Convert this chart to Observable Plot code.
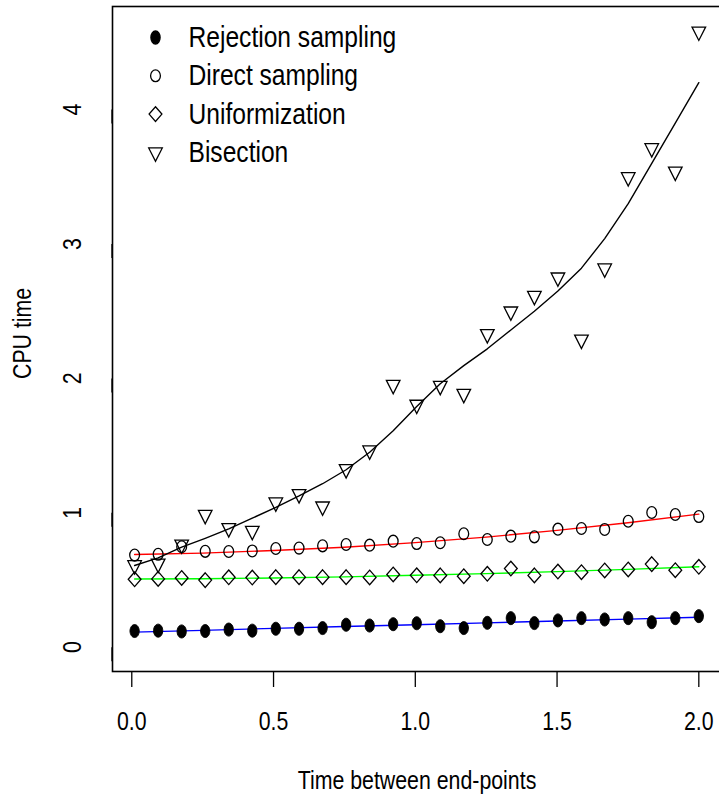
<!DOCTYPE html>
<html>
<head>
<meta charset="utf-8">
<script src="https://cdn.jsdelivr.net/npm/d3@7"></script>
<script src="https://cdn.jsdelivr.net/npm/@observablehq/plot@0.6"></script>
<style>
  html, body { margin: 0; padding: 0; background: #fff; }
</style>
</head>
<body>
<div id="chart"></div>
<script>
// ---- data ----
const timeGrid = [0.010,0.093,0.176,0.259,0.342,0.425,0.508,0.590,0.673,0.756,0.839,0.922,1.005,1.088,1.171,1.254,1.337,1.420,1.503,1.586,1.668,1.751,1.834,1.917,2.000];
const rejection = [0.120,0.123,0.117,0.120,0.131,0.123,0.137,0.137,0.142,0.167,0.161,0.171,0.178,0.156,0.142,0.181,0.216,0.179,0.199,0.216,0.206,0.216,0.186,0.216,0.231];
const direct = [0.685,0.691,0.747,0.713,0.712,0.716,0.734,0.737,0.754,0.764,0.759,0.789,0.771,0.777,0.844,0.801,0.826,0.821,0.878,0.883,0.876,0.937,1.002,0.987,0.972];
const uniformization = [0.505,0.508,0.515,0.499,0.520,0.518,0.521,0.521,0.521,0.521,0.519,0.541,0.535,0.534,0.528,0.546,0.585,0.534,0.563,0.558,0.571,0.578,0.618,0.573,0.598];
const bisection = [0.610,0.622,0.764,0.985,0.886,0.866,1.077,1.139,1.047,1.325,1.464,1.952,1.804,1.945,1.885,2.330,2.498,2.614,2.751,2.289,2.818,3.497,3.713,3.539,4.581];

// fitted curves
const fitGridLin = [0.01, 0.25, 0.5, 0.75, 1.0, 1.25, 1.5, 1.75, 2.0];
const fitRejection = [0.112, 0.125, 0.140, 0.154, 0.167, 0.181, 0.195, 0.209, 0.223];
const fitDirect = [0.690, 0.700, 0.719, 0.744, 0.778, 0.819, 0.869, 0.926, 0.990];
const fitUniform = [0.507, 0.509, 0.515, 0.523, 0.535, 0.547, 0.562, 0.579, 0.598];
const fitBisection = [0.608,0.665,0.744,0.810,0.880,0.960,1.040,1.125,1.216,1.320,1.450,1.610,1.790,1.960,2.095,2.220,2.360,2.500,2.650,2.820,3.040,3.300,3.600,3.900,4.200];

const xTicks = [0, 0.5, 1, 1.5, 2];
const yTicks = [0, 1, 2, 3, 4];
const seriesNames = ["Rejection sampling", "Direct sampling", "Uniformization", "Bisection"];
const xLabel = "Time between end-points";
const yLabel = "CPU time";

// ---- custom symbols (R-like, slightly tall) ----
const K = 0.5523;
function ellipse(rx, ry) {
  return { draw(ctx) {
    ctx.moveTo(rx, 0);
    ctx.bezierCurveTo(rx, K * ry, K * rx, ry, 0, ry);
    ctx.bezierCurveTo(-K * rx, ry, -rx, K * ry, -rx, 0);
    ctx.bezierCurveTo(-rx, -K * ry, -K * rx, -ry, 0, -ry);
    ctx.bezierCurveTo(K * rx, -ry, rx, -K * ry, rx, 0);
    ctx.closePath();
  }};
}
const diamond = { draw(ctx) {
  const w = 6.4, h = 7.3;
  ctx.moveTo(0, -h); ctx.lineTo(w, 0); ctx.lineTo(0, h); ctx.lineTo(-w, 0); ctx.closePath();
}};
const triDown = { draw(ctx) {
  const w = 6.8, h = 13.4;
  ctx.moveTo(-w, -h / 3); ctx.lineTo(w, -h / 3); ctx.lineTo(0, 2 * h / 3); ctx.closePath();
}};
const symFilled = ellipse(4.6, 6.5);
const symOpen = ellipse(4.9, 5.9);

const seriesStyles = [
  {symbol: symFilled, fill: "black", stroke: "black"},
  {symbol: symOpen, fill: "none", stroke: "black"},
  {symbol: diamond, fill: "none", stroke: "black"},
  {symbol: triDown, fill: "none", stroke: "black"}
];

const pts = (ys) => timeGrid.map((t, i) => ({x: t, y: ys[i]}));
const fit = (xs, ys) => xs.map((t, i) => ({x: t, y: ys[i]}));

const FONT = "'Liberation Sans', Arial, Helvetica, sans-serif";

const legendMarks = [];
seriesNames.forEach((name, i) => {
  const st = seriesStyles[i];
  legendMarks.push(Plot.dot([0], {frameAnchor: "top-left", dx: 43, dy: 31 + 38.3 * i,
    symbol: st.symbol, fill: st.fill, stroke: st.stroke, strokeWidth: 1.3, r: 5}));
  legendMarks.push(Plot.text([name], {frameAnchor: "top-left", dx: 76, dy: 31 + 38.3 * i,
    textAnchor: "start", lineAnchor: "middle", fontSize: 30, fill: "black"}));
});

const chart = Plot.plot({
  width: 719,
  height: 805,
  marginLeft: 112,
  marginRight: -2,
  marginTop: 6,
  marginBottom: 134,
  style: {fontFamily: FONT, fontSize: "26px", background: "white", color: "black"},
  x: {domain: [-0.068, 2.08]},
  y: {domain: [-0.181, 4.767]},
  marks: [
    Plot.axisX({ticks: xTicks, tickFormat: d3.format(".1f"), tickSize: 16, tickPadding: 24,
      strokeWidth: 1.3, fontSize: 26, label: null}),
    Plot.axisY({ticks: yTicks, tickFormat: d => String(d), tickSize: 14, tickPadding: 26,
      rotate: -90, textAnchor: "middle", strokeWidth: 1.3, fontSize: 26, label: null}),
    Plot.text([xLabel], {frameAnchor: "bottom", dy: 109, fontSize: 26, lineAnchor: "middle"}),
    Plot.text([yLabel], {frameAnchor: "left", dx: -90, dy: 40, rotate: -90, textAnchor: "start",
      fontSize: 26, lineAnchor: "middle"}),
    // fitted curves
    Plot.line(fit(fitGridLin, fitRejection), {x: "x", y: "y", stroke: "#0000ff", strokeWidth: 1.4}),
    Plot.line(fit(fitGridLin, fitDirect), {x: "x", y: "y", stroke: "#ff0000", strokeWidth: 1.4}),
    Plot.line(fit(fitGridLin, fitUniform), {x: "x", y: "y", stroke: "#00ff00", strokeWidth: 1.4}),
    Plot.line(fit(timeGrid, fitBisection), {x: "x", y: "y", stroke: "black", strokeWidth: 1.4}),
    // points
    Plot.dot(pts(rejection), {x: "x", y: "y", symbol: symFilled, fill: "black", stroke: "black", strokeWidth: 1, r: 5}),
    Plot.dot(pts(direct), {x: "x", y: "y", symbol: symOpen, fill: "none", stroke: "black", strokeWidth: 1.3, r: 5}),
    Plot.dot(pts(uniformization), {x: "x", y: "y", symbol: diamond, fill: "none", stroke: "black", strokeWidth: 1.3, r: 5}),
    Plot.dot(pts(bisection), {x: "x", y: "y", symbol: triDown, fill: "none", stroke: "black", strokeWidth: 1.3, r: 5}),
    ...legendMarks,
    Plot.frame({stroke: "black", strokeWidth: 1.6})
  ]
});
document.getElementById("chart").appendChild(chart);

// narrow the glyphs along the reading direction (R's Helvetica rendering is condensed)
chart.querySelectorAll("text").forEach((t) => {
  const len = t.getComputedTextLength();
  if (len > 0) {
    t.setAttribute("textLength", (len * 0.82).toFixed(1));
    t.setAttribute("lengthAdjust", "spacingAndGlyphs");
  }
});
</script>
</body>
</html>
